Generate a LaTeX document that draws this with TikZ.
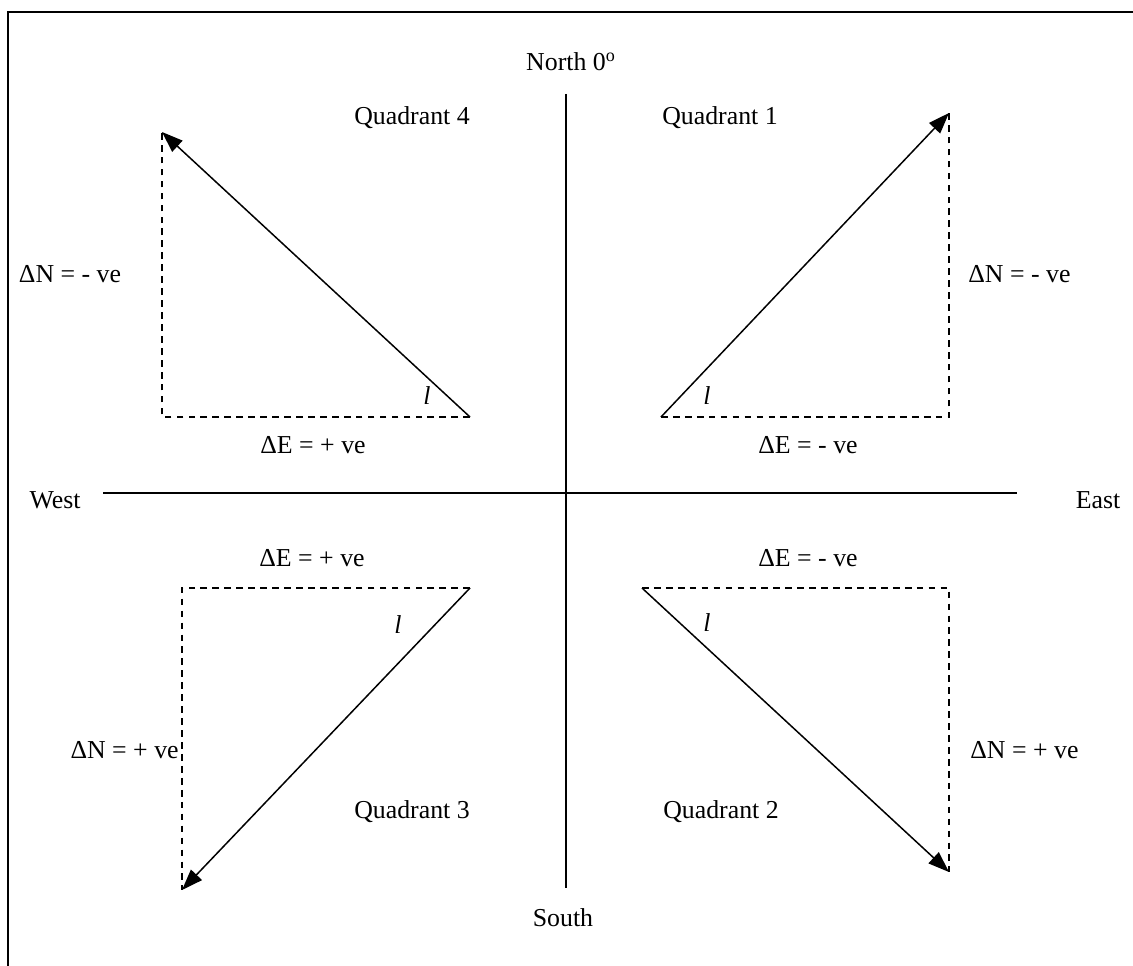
\documentclass[tikz,border=0pt]{standalone}
\usepackage{fontspec}
\setmainfont{Liberation Serif}
\usetikzlibrary{arrows.meta}

\begin{document}
\begin{tikzpicture}[x=0.02cm,y=-0.02cm, lbl/.style={inner sep=0pt,font=\fontsize{14.7}{17}\selectfont}, axis/.style={line width=0.8pt}, guide/.style={line width=0.75pt,dash pattern=on 3.8pt off 3pt}, arr/.style={line width=0.85pt,-{Triangle[length=4.2mm,width=3mm]}}, frame/.style={line width=1.1pt}]
\useasboundingbox (0,0) rectangle (1133,966);
\draw[frame] (8,966) |- (1133,12);
% compass axes
\coordinate (axN) at (566,94); \coordinate (axS) at (566,888); \coordinate (axW) at (103,493); \coordinate (axE) at (1017,493);
\draw[axis] (axN)--(axS); \draw[axis] (axW)--(axE);
\node[lbl] (north) at (571,62) {North 0\textsuperscript{o}};
\node[lbl] (south) at (563,918) {South};
\node[lbl] (west) at (55,500) {West};
\node[lbl] (east) at (1098,500) {East};
% quadrant 1
\coordinate (q1o) at (661,417); \coordinate (q1c) at (949,417); \coordinate (q1t) at (949,113);
\draw[guide] (q1o)--(q1c)--(q1t); \draw[arr] (q1o)--(q1t);
\node[lbl] (quad1) at (720,118) {Quadrant 1};
\node[lbl,anchor=west] (dn1) at (968,274) {ΔN = - ve};
\node[lbl] (de1) at (808,445) {ΔE = - ve};
\node[lbl] (ang1) at (707,396) {\textit{l}};
% quadrant 4
\coordinate (q4o) at (470,417); \coordinate (q4c) at (162,417); \coordinate (q4t) at (162,132);
\draw[guide] (q4o)--(q4c)--(q4t); \draw[arr] (q4o)--(q4t);
\node[lbl] (quad4) at (412,118) {Quadrant 4};
\node[lbl] (dn4) at (70,274) {ΔN = - ve};
\node[lbl] (de4) at (313,445) {ΔE = + ve};
\node[lbl] (ang4) at (427,396) {\textit{l}};
% quadrant 3
\coordinate (q3o) at (470,588); \coordinate (q3c) at (182,588); \coordinate (q3t) at (182,890);
\draw[guide] (q3o)--(q3c)--(q3t); \draw[arr] (q3o)--(q3t);
\node[lbl] (quad3) at (412,812) {Quadrant 3};
\node[lbl,anchor=east] (dn3) at (179,750) {ΔN = + ve};
\node[lbl] (de3) at (312,558) {ΔE = + ve};
\node[lbl] (ang3) at (398,625) {\textit{l}};
% quadrant 2
\coordinate (q2o) at (642,588); \coordinate (q2c) at (949,588); \coordinate (q2t) at (949,872);
\draw[guide] (q2o)--(q2c)--(q2t); \draw[arr] (q2o)--(q2t);
\node[lbl] (quad2) at (721,812) {Quadrant 2};
\node[lbl,anchor=west] (dn2) at (970,750) {ΔN = + ve};
\node[lbl] (de2) at (808,558) {ΔE = - ve};
\node[lbl] (ang2) at (707,623) {\textit{l}};
\end{tikzpicture}
\end{document}
